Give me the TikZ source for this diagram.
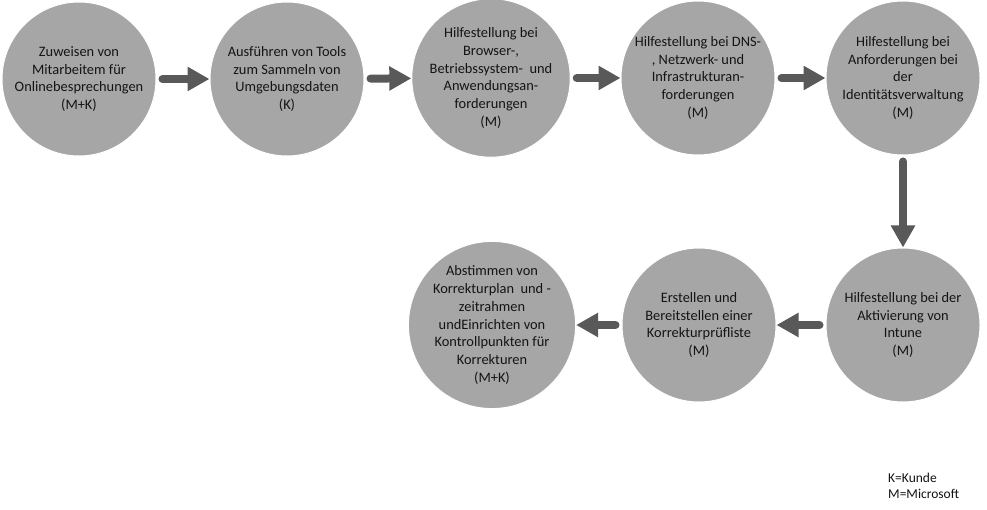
\documentclass[tikz,border=0pt]{standalone}
\usepackage{fontspec}
\setmainfont{Carlito}
\usetikzlibrary{arrows.meta}
\definecolor{circfill}{RGB}{166,166,166}
\definecolor{arrcol}{RGB}{89,89,89}
\definecolor{txtcol}{RGB}{20,20,20}
\begin{document}
\begin{tikzpicture}[x=1pt,y=-1pt,
  stepcirc/.style={circle, fill=circfill, draw=white, line width=1pt, minimum size=154pt, inner sep=0pt,
    align=center, text=txtcol, font=\fontsize{14.4}{17.7}\selectfont},
  flowarrow/.style={draw=arrcol, line width=8pt, line cap=round,
    -{Triangle[length=22pt,width=23pt]}, shorten <=6pt}
]
\useasboundingbox (0,0) rectangle (987,510);
\fill[white] (0,0) rectangle (987,510);

\node[stepcirc] (c1) at (79,79) {Zuweisen von\\Mitarbeitem für\\Onlinebesprechungen\\(M+K)};
\node[stepcirc] (c2) at (287,79) {Ausführen von Tools\\zum Sammeln von\\Umgebungsdaten\\(K)};
\node[stepcirc] (c3) at (491,78) {Hilfestellung bei\\Browser-,\\Betriebssystem- \ und\\Anwendungsan-\\forderungen\\(M)};
\node[stepcirc] (c4) at (698,78) {Hilfestellung bei DNS-\\, Netzwerk- und\\Infrastrukturan-\\forderungen\\(M)};
\node[stepcirc] (c5) at (903,78) {Hilfestellung bei\\Anforderungen bei\\der\\Identitätsverwaltung\\(M)};
\node[stepcirc] (c6) at (903,325) {Hilfestellung bei der\\Aktivierung von\\Intune\\(M)};
\node[stepcirc] (c7) at (699,325) {Erstellen und\\Bereitstellen einer\\Korrekturprüfliste\\(M)};
\node[stepcirc] (c8) at (492,325) {Abstimmen von\\Korrekturplan \ und -\\zeitrahmen\\undEinrichten von\\Kontrollpunkten für\\Korrekturen\\(M+K)};

\draw[flowarrow] (c1) -- (c2);
\draw[flowarrow] (c2) -- (c3);
\draw[flowarrow] (c3) -- (c4);
\draw[flowarrow] (c4) -- (c5);
\draw[flowarrow] (c5) -- (c6);
\draw[flowarrow] (c6) -- (c7);
\draw[flowarrow] (c7) -- (c8);

\node[anchor=west, align=left, text=txtcol, inner sep=0pt, font=\fontsize{13.5}{16}\selectfont] (legend) at (888,486) {K=Kunde\\M=Microsoft};
\end{tikzpicture}
\end{document}
